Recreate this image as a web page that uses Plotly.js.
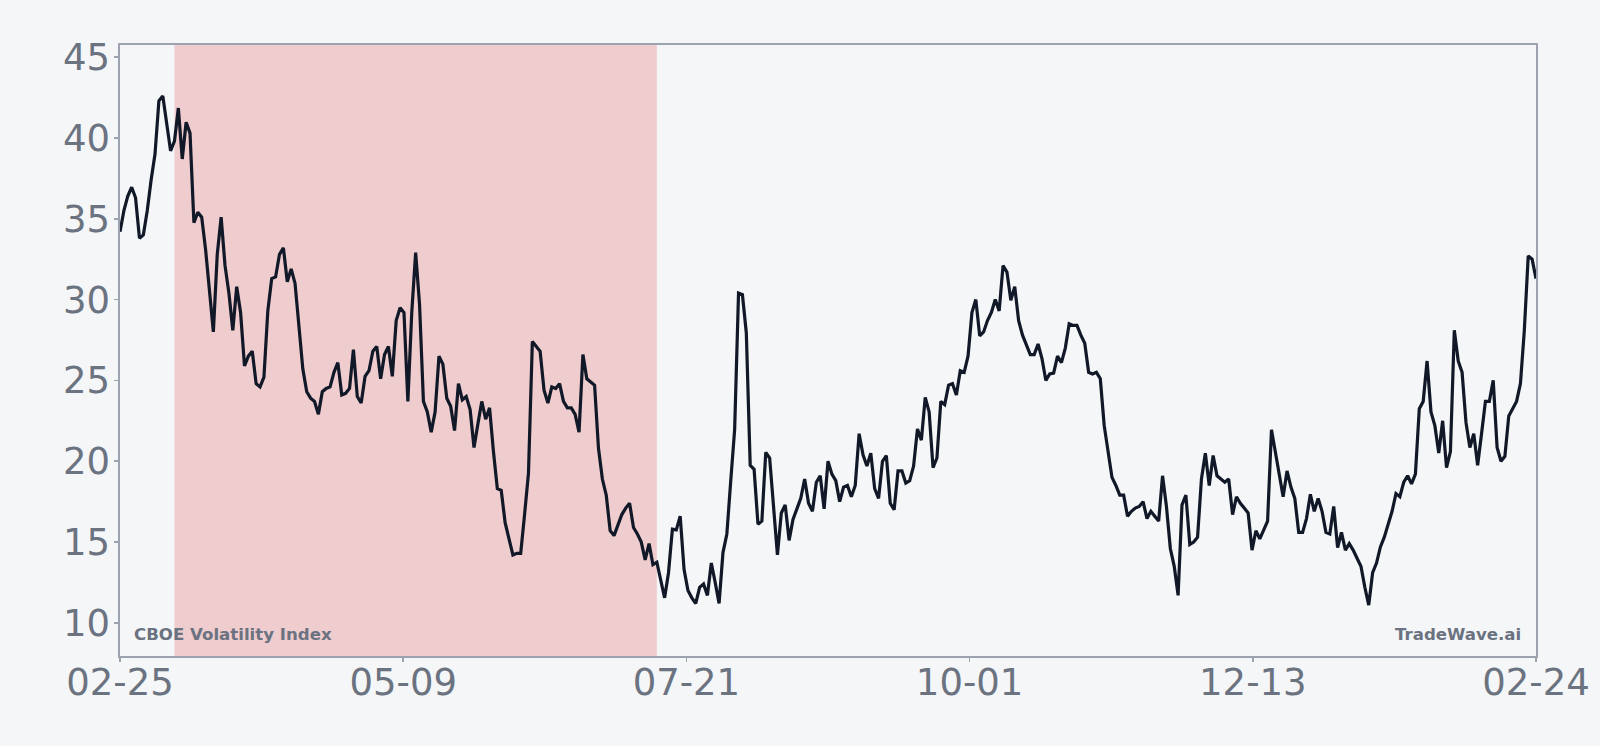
<!DOCTYPE html>
<html>
<head>
<meta charset="utf-8">
<script src="https://cdn.plot.ly/plotly-3.0.1.min.js"></script>
<style>
  html, body { margin: 0; padding: 0; background: #f4f6f8; }
  #chart { width: 1600px; height: 746px; }
</style>
</head>
<body>
<div id="chart"></div>
<script>
// ---- Data (daily closes) ----
const startDate = '2025-02-25';
const dayCount = 365;

const vixPart1 = [ // 02-25 .. 05-26
  34.2, 35.5, 36.4, 36.95, 36.3, 33.8, 34.0, 35.5, 37.4, 39.0,
  42.3, 42.6, 40.9, 39.2, 39.8, 41.85, 38.7, 40.97, 40.3, 34.75,
  35.4, 35.1, 33.1, 30.5, 28.0, 32.8, 35.1, 32.1, 30.4, 28.1,
  30.8, 29.2, 25.9, 26.5, 26.8, 24.8, 24.6, 25.2, 29.3, 31.3,
  31.4, 32.8, 33.2, 31.1, 31.9, 31.0, 28.4, 25.7, 24.3, 23.9,
  23.7, 22.9, 24.3, 24.5, 24.6, 25.5, 26.1, 24.1, 24.2, 24.5,
  26.9, 24.0, 23.6, 25.25, 25.6, 26.8, 27.1, 25.1, 26.6, 27.1,
  25.25, 28.7, 29.5, 29.2, 23.7, 29.2, 32.9, 29.7, 23.7, 23.05,
  21.8, 23.05, 26.5, 26.0, 23.9, 23.4, 21.9, 24.8, 23.8, 24.0
];
const vixPart2 = [ // 05-26 .. 09-03
  23.2, 20.85, 22.3, 23.7, 22.6, 23.3, 20.6, 18.3, 18.2, 16.2,
  15.2, 14.2, 14.3, 14.3, 16.7, 19.25, 27.4, 27.1, 26.8, 24.4,
  23.6, 24.6, 24.5, 24.8, 23.7, 23.3, 23.3, 22.9, 21.8, 26.6,
  25.1, 24.9, 24.7, 20.8, 18.9, 17.9, 15.7, 15.4, 16.1, 16.7,
  17.1, 17.4, 15.9, 15.5, 15.0, 13.9, 14.9, 13.6, 13.75, 12.65,
  11.55, 13.1, 15.8, 15.75, 16.6, 13.3, 12.0, 11.55, 11.2, 12.2,
  12.4, 11.7, 13.7, 12.5, 11.2, 14.35, 15.5, 18.8, 21.95, 30.4,
  30.3, 27.95, 19.75, 19.5, 16.1, 16.3, 20.55, 20.2, 17.3, 14.2,
  16.8, 17.3, 15.1, 16.4, 17.05, 17.7, 18.9, 17.4, 16.9, 18.7
];
const vixPart3 = [ // 09-03 .. 12-12
  19.1, 17.05, 20.0, 19.2, 18.8, 17.5, 18.4, 18.5, 17.8, 18.5,
  21.7, 20.4, 19.7, 20.5, 18.3, 17.7, 20.0, 20.35, 17.4, 17.0,
  19.4, 19.4, 18.65, 18.8, 19.7, 22.0, 21.3, 23.95, 23.05, 19.6,
  20.2, 23.7, 23.5, 24.7, 24.8, 24.1, 25.6, 25.5, 26.5, 29.2,
  30.0, 27.75, 28.0, 28.7, 29.2, 30.0, 29.3, 32.1, 31.7, 29.95,
  30.8, 28.7, 27.8, 27.2, 26.6, 26.6, 27.25, 26.35, 25.0, 25.4,
  25.45, 26.5, 26.1, 27.0, 28.5, 28.4, 28.4, 27.8, 27.3, 25.5,
  25.4, 25.5, 25.1, 22.2, 20.6, 19.0, 18.5, 17.9, 17.9, 16.6,
  16.9, 17.1, 17.2, 17.5, 16.45, 16.9, 16.6, 16.3, 19.1, 17.2
];
const vixPart4 = [ // 12-12 .. 02-24
  14.6, 13.5, 11.7, 17.3, 17.9, 14.85, 15.0, 15.3, 18.9, 20.5,
  18.5, 20.35, 19.1, 18.9, 18.7, 18.9, 16.7, 17.8, 17.4, 17.1,
  16.8, 14.5, 15.7, 15.2, 15.7, 16.3, 21.95, 20.6, 19.2, 17.8,
  19.4, 18.4, 17.7, 15.6, 15.6, 16.45, 17.95, 16.9, 17.7, 16.9,
  15.6, 15.5, 17.2, 14.65, 15.6, 14.5, 14.9, 14.5, 14.0, 13.5,
  12.2, 11.1, 13.1, 13.7, 14.7, 15.3, 16.1, 16.9, 18.0, 17.8,
  18.7, 19.1, 18.6, 19.2, 23.25, 23.7, 26.2, 23.05, 22.2, 20.5,
  22.5, 19.6, 20.6, 28.1, 26.2, 25.5, 22.4, 20.85, 21.7, 19.75,
  21.7, 23.7, 23.7, 25.0, 20.85, 20.0, 20.3, 22.8, 23.25, 23.7,
  24.8, 28.1, 32.7, 32.5, 31.3
];

const shadeStart = '2025-03-11';
const shadeEnd = '2025-07-13';

const xTickLabels = ['02-25', '05-09', '07-21', '10-01', '12-13', '02-24'];
const yTickValues = [10, 15, 20, 25, 30, 35, 40, 45];

const seriesLabel = 'CBOE Volatility Index';
const sourceLabel = 'TradeWave.ai';

// ---- Build ----
const vix = vixPart1.concat(vixPart2, vixPart3, vixPart4);
const t0 = Date.parse(startDate + 'T00:00:00Z');
const DAY = 86400000;
const dates = [];
for (let i = 0; i < dayCount; i++) {
  dates.push(new Date(t0 + i * DAY).toISOString().slice(0, 10));
}
const tEnd = t0 + (dayCount - 1) * DAY;
const xTickVals = xTickLabels.map((_, i) => t0 + i * (tEnd - t0) / (xTickLabels.length - 1));

const axisColor = '#9ca3af';
const textColor = '#6b7280';
const font = 'DejaVu Sans, Verdana, sans-serif';

const trace = {
  x: dates,
  y: vix,
  type: 'scatter',
  mode: 'lines',
  line: { color: '#111827', width: 3.2 },
  hoverinfo: 'skip'
};

const layout = {
  width: 1600,
  height: 746,
  paper_bgcolor: '#f4f6f8',
  plot_bgcolor: '#f4f6f8',
  margin: { l: 120, r: 64, t: 45, b: 90, pad: 0 },
  showlegend: false,
  xaxis: {
    type: 'date',
    range: [t0, tEnd],
    tickmode: 'array',
    tickvals: xTickVals,
    ticktext: xTickLabels,
    ticks: 'outside',
    ticklen: 4,
    tickwidth: 1.5,
    tickcolor: axisColor,
    ticklabelstandoff: -11,
    showline: true,
    linecolor: axisColor,
    linewidth: 1.6,
    mirror: true,
    showgrid: false,
    zeroline: false,
    tickfont: { family: font, size: 37, color: textColor }
  },
  yaxis: {
    range: [7.95, 45.75],
    tickmode: 'array',
    tickvals: yTickValues,
    ticktext: yTickValues.map(String),
    ticks: 'outside',
    ticklen: 4,
    tickwidth: 1.5,
    tickcolor: axisColor,
    ticklabelstandoff: -3,
    showline: true,
    linecolor: axisColor,
    linewidth: 1.6,
    mirror: true,
    showgrid: false,
    zeroline: false,
    tickfont: { family: font, size: 37, color: textColor }
  },
  shapes: [{
    type: 'rect',
    xref: 'x', yref: 'paper',
    x0: shadeStart, x1: shadeEnd,
    y0: 0, y1: 1,
    fillcolor: 'rgba(220,38,38,0.2)',
    line: { width: 0 },
    layer: 'below'
  }],
  annotations: [
    {
      text: seriesLabel,
      xref: 'paper', yref: 'paper',
      x: 0, y: 0,
      xanchor: 'left', yanchor: 'bottom',
      xshift: 12, yshift: 10,
      showarrow: false,
      font: { family: font, size: 16.6, color: textColor, weight: 'bold' }
    },
    {
      text: sourceLabel,
      xref: 'paper', yref: 'paper',
      x: 1, y: 0,
      xanchor: 'right', yanchor: 'bottom',
      xshift: -13, yshift: 10,
      showarrow: false,
      font: { family: font, size: 16.6, color: textColor, weight: 'bold' }
    }
  ]
};

Plotly.newPlot('chart', [trace], layout, { displayModeBar: false, staticPlot: true });
</script>
</body>
</html>
